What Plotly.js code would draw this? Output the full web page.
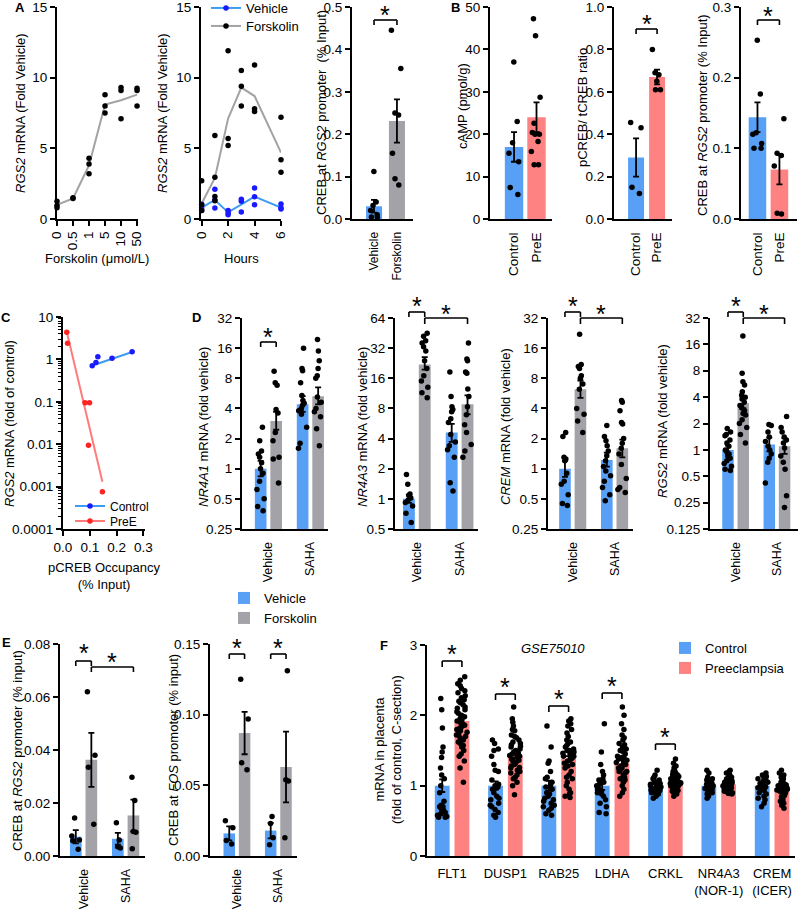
<!DOCTYPE html>
<html><head><meta charset="utf-8">
<script src="https://cdn.plot.ly/plotly-3.0.1.min.js"></script>
<style>html,body{margin:0;padding:0;background:#fff}</style>
</head><body><div id="chart" style="width:800px;height:910px"></div>
<script>
// ================= DATA =================
// A (left) RGS2 dose response
const a1Doses = ['0','0.5','1','5','10','50'];
const a1Points = [[1.25,0.95,0.8],[1.5,1.45],[4.3,3.9,3.2],[8.8,8.0,7.5],[9.3,9.1,7.1],[9.25,9.1,8.0]];
const a1Mean = [1.0,1.46,3.8,8.1,8.4,8.8];
// A (middle) time course
const a2Hours = [0,1,2,3,4,6];
const a2VehPoints = [[1.05,0.78,0.6],[2.1,1.35,0.78],[0.6,0.42,0.3],[1.4,1.25,0.5],[2.2,1.58,1.0],[1.06,0.78,0.7]];
const a2VehMean = [0.8,1.35,0.47,1.04,1.58,0.8];
const a2FskPoints = [[2.7,1.0,0.6],[5.9,2.95,1.6,1.3],[11.9,5.7,5.2],[10.5,9.4,8.0],[10.9,7.8,7.6],[7.2,4.2,3.3]];
const a2FskMean = [1.1,2.9,7.1,9.3,8.7,4.7];
// A (right) CREB at RGS2 promoter
const a3Groups = ['Vehicle','Forskolin'];
const a3Mean = [0.03,0.231];
const a3Sem = [0.015,0.051];
const a3Points = [[0.112,0.04,0.032,0.02,0.01,0.005,0.004],[0.445,0.355,0.25,0.245,0.155,0.095,0.08]];
// B
const bGroups = ['Control','PreE'];
const b1Mean = [17,24], b1Sem = [3.5,3.5];
const b1Points = [[37,23,18,15.5,13.5,7.4,5.8],[47.2,43.2,28.7,22.6,20.4,20,20,18.3,15.9,12.8,12.8]];
const b2Mean = [0.29,0.67], b2Sem = [0.09,0.035];
const b2Points = [[0.455,0.43,0.15,0.12],[0.8,0.69,0.68,0.65,0.61,0.61]];
const b3Mean = [0.144,0.07], b3Sem = [0.021,0.021];
const b3Points = [[0.253,0.177,0.122,0.12,0.107,0.1,0.1],[0.142,0.093,0.09,0.075,0.007,0.008]];
// C
const cCtrlX = [0.109,0.123,0.13,0.183,0.258];
const cCtrlY = [0.71,0.84,1.16,1.07,1.52];
const cCtrlFitX = [0.104,0.261], cCtrlFitY = [0.70,1.52];
const cPreX = [0.014,0.017,0.082,0.099,0.095,0.147];
const cPreY = [4.35,2.4,0.095,0.095,0.0095,0.00076];
const cPreFitX = [0.014,0.147], cPreFitY = [4.5,0.0013];
const cTicks = [0.0001,0.001,0.01,0.1,1,10];
const cTickText = ['0.0001','0.001','0.01','0.1','1','10'];
// D
const dGroups = ['Vehicle','SAHA'];
const d1VehMean=[1.0,4.4], d1VehUp=[1.2,5.3], d1VehLo=[0.84,3.7];
const d1FskMean=[3.0,5.3], d1FskUp=[3.7,6.5], d1FskLo=[2.45,4.4];
const d1VehPts=[[2.6,1.9,1.5,1.4,1.3,1.15,1.0,0.9,0.75,0.62,0.5,0.42,0.38],[16,10,9.5,7.2,5.4,4.8,4.5,4.3,4.0,3.8,3.5,2.6,1.8,1.6]];
const d1FskPts=[[9.4,7.2,6.8,3.9,3.6,2.3,1.9,1.3,1.25,0.72],[19.5,15,12,10,8.5,8,5.2,4.6,4.0,3.7,3.3,2.5,1.7]];
const d2VehMean=[1.0,4.6], d2VehUp=[1.1,5.6], d2VehLo=[0.91,3.7];
const d2FskMean=[22,8.8], d2FskUp=[26,10.8], d2FskLo=[19.5,7.0];
const d2VehPts=[[1.75,1.4,1.12,1.08,1.02,0.97,0.92,0.85,0.72,0.58],[18.5,10.5,8.3,7.8,7.4,6.3,5.8,4.4,3.7,3.4,3.1,2.6,1.45,1.2]];
const d2FskPts=[[45,42,38,36,33,30,24,20,17,15,13,11.5,10.2],[36,25,24,18.5,18,12.5,10.5,8.3,6.9,5.5,4.6,3.5,3.0,2.6]];
const d3VehMean=[1.0,1.22], d3VehUp=[1.2,1.45], d3VehLo=[0.83,1.05];
const d3FskMean=[6.2,1.6], d3FskUp=[7.6,1.95], d3FskLo=[5.1,1.3];
const d3VehPts=[[2.3,2.1,1.3,1.25,1.2,0.9,0.75,0.7,0.55,0.45,0.43],[2.7,2.1,1.9,1.7,1.5,1.35,1.2,1.05,0.95,0.85,0.75,0.65,0.55,0.48]];
const d3FskPts=[[22,11,10.5,10,8.5,8,7,6.2,4.0,3.5,3.0,2.3],[4.8,4.6,3.8,2.9,2.8,2.0,1.8,1.6,1.4,1.1,0.8,0.65,0.62,0.58]];
const d4VehMean=[1.0,1.15], d4VehUp=[1.12,1.38], d4VehLo=[0.9,0.96];
const d4FskMean=[3.4,1.1], d4FskUp=[3.9,1.35], d4FskLo=[3.0,0.9];
const d4VehPts=[[1.75,1.6,1.5,1.45,1.3,1.2,1.1,1.0,0.95,0.9,0.85,0.8,0.75,0.7,0.65,0.6,0.58],[1.95,1.9,1.6,1.4,1.25,1.1,1.0,0.9,0.8,0.72,0.42]];
const d4FskPts=[[20,7.5,6.0,5.5,4.6,4.2,4.0,3.8,3.5,3.2,3.0,2.8,2.6,2.5,2.2,2.0,1.8,1.5,1.2],[2.4,1.8,1.6,1.4,1.3,1.2,1.05,0.85,0.72,0.6,0.3,0.22]];
const dTicks1 = [0.25,0.5,1,2,4,8,16,32], dTickText1 = ['0.25','0.5','1','2','4','8','16','32'];
const dTicks2 = [0.5,1,2,4,8,16,32,64], dTickText2 = ['0.5','1','2','4','8','16','32','64'];
const dTicks4 = [0.125,0.25,0.5,1,2,4,8,16,32], dTickText4 = ['0.125','0.25','0.5','1','2','4','8','16','32'];
// E
const eGroups = ['Vehicle','SAHA'];
const e1VehMean=[0.0073,0.0065], e1VehSem=[0.0025,0.0022];
const e1FskMean=[0.0363,0.0153], e1FskSem=[0.0102,0.006];
const e1VehPts=[[0.0143,0.0075,0.006,0.0058,0.0025],[0.0125,0.006,0.0035,0.003]];
const e1FskPts=[[0.062,0.038,0.0335,0.012],[0.0297,0.0209,0.0092,0.009,0.0027]];
const e2VehMean=[0.016,0.018], e2VehSem=[0.005,0.0055];
const e2FskMean=[0.087,0.063], e2FskSem=[0.015,0.025];
const e2VehPts=[[0.025,0.02,0.011,0.0085],[0.028,0.023,0.013,0.008]];
const e2FskPts=[[0.125,0.097,0.066,0.061],[0.131,0.054,0.053,0.013]];
// F
const fGenes = ['FLT1','DUSP1','RAB25','LDHA','CRKL','NR4A3<br>(NOR-1)','CREM<br>(ICER)'];
const fCtrlMean = [1,1,1,1,1,1,1];
const fCtrlSem = [0.09,0.06,0.07,0.06,0.02,0.02,0.03];
const fPreMean = [1.92,1.43,1.38,1.32,1.05,1.02,0.96];
const fPreSem = [0.05,0.04,0.04,0.04,0.015,0.01,0.015];
const fCtrlPts = [
 [2.24,2.08,1.82,1.55,1.48,1.4,1.25,1.15,1.1,1.0,0.9,0.78,0.72,0.7,0.68,0.64,0.6,0.58,0.56,0.55,0.55,0.62,0.65,0.7],
 [1.65,1.6,1.52,1.5,1.42,1.3,1.22,1.2,1.08,1.02,1.0,0.98,0.95,0.9,0.85,0.82,0.8,0.75,0.7,0.66,0.62,0.58,0.55,0.72],
 [1.85,1.55,1.35,1.32,1.2,1.1,1.05,1.0,0.98,0.95,0.88,0.85,0.82,0.8,0.78,0.75,0.72,0.7,0.68,0.65,0.6,0.58,0.9,1.12],
 [1.88,1.48,1.3,1.2,1.1,1.05,1.02,1.0,0.98,0.95,0.92,0.9,0.88,0.85,0.8,0.75,0.7,0.62,0.6,1.08,0.95,1.15],
 [1.22,1.15,1.1,1.08,1.05,1.03,1.02,1.0,1.0,0.98,0.97,0.95,0.93,0.92,0.9,0.88,0.85,0.82,1.06,0.96,1.12,0.94],
 [1.22,1.18,1.12,1.1,1.08,1.06,1.05,1.03,1.02,1.0,0.99,0.98,0.97,0.95,0.94,0.93,0.92,0.9,0.88,0.85,0.82,1.0,0.96],
 [1.18,1.15,1.12,1.1,1.08,1.05,1.03,1.0,0.98,0.95,0.93,0.9,0.88,0.85,0.82,0.8,0.75,0.7,1.13,1.06,0.97,1.02]
];
const fPrePts = [
 [2.55,2.5,2.45,2.42,2.38,2.35,2.32,2.28,2.25,2.22,2.2,2.18,2.15,2.12,2.1,2.08,2.05,2.03,2.0,1.98,1.96,1.94,1.92,1.9,1.88,1.86,1.84,1.82,1.8,1.78,1.76,1.74,1.72,1.7,1.68,1.65,1.62,1.6,1.57,1.55,1.5,1.45,1.42,1.35,1.25,1.05],
 [2.12,1.95,1.9,1.85,1.8,1.78,1.72,1.7,1.68,1.65,1.62,1.6,1.58,1.56,1.55,1.52,1.5,1.48,1.46,1.45,1.43,1.42,1.4,1.38,1.36,1.35,1.33,1.3,1.28,1.26,1.25,1.22,1.2,1.18,1.15,1.12,1.1,1.05,1.0,0.87],
 [1.95,1.92,1.88,1.85,1.8,1.75,1.7,1.65,1.62,1.6,1.57,1.55,1.52,1.5,1.48,1.46,1.45,1.42,1.4,1.38,1.35,1.32,1.3,1.28,1.25,1.2,1.15,1.12,1.1,1.05,1.0,0.95,0.9,0.88,0.85,0.83,1.42,1.5],
 [2.12,2.0,1.88,1.8,1.72,1.68,1.65,1.6,1.58,1.55,1.52,1.5,1.48,1.45,1.42,1.4,1.38,1.36,1.35,1.33,1.3,1.28,1.25,1.22,1.2,1.18,1.15,1.12,1.1,1.08,1.05,1.0,0.95,0.9,0.85,1.3,1.25,1.4,1.5,1.2],
 [1.38,1.32,1.28,1.25,1.22,1.2,1.18,1.16,1.15,1.14,1.13,1.12,1.11,1.1,1.09,1.08,1.07,1.06,1.05,1.05,1.04,1.03,1.02,1.02,1.01,1.0,1.0,0.99,0.98,0.97,0.96,0.95,0.94,0.93,0.92,0.9,0.88,0.85,1.1,1.08,1.06,1.04,1.03,1.0],
 [1.22,1.2,1.18,1.15,1.13,1.12,1.1,1.09,1.08,1.07,1.06,1.05,1.04,1.03,1.02,1.02,1.01,1.0,1.0,0.99,0.98,0.97,0.96,0.95,0.94,0.93,0.92,0.91,0.9,0.89,0.88,1.05,1.0,0.97,1.01,0.98,0.95,1.03],
 [1.22,1.18,1.15,1.12,1.1,1.08,1.06,1.05,1.04,1.02,1.01,1.0,0.99,0.98,0.97,0.96,0.95,0.94,0.93,0.92,0.91,0.9,0.89,0.88,0.86,0.84,0.82,0.8,0.78,0.75,0.72,0.68,0.96,0.94,1.0,0.92,0.98]
];

// ================= STYLE / LAYOUT =================
const FONT = '"Liberation Sans", Arial, sans-serif';
const BLUE = '#57a0f6', GREY = '#a2a2a8', PINK = '#ff8282';
const LGREY = '#a3a3a3', LBLUE = '#3d9cf2', DBLUE = '#1a1aff', RED = '#ff2424', LRED = '#ff7b7b';
const W = 800, H = 910;
const px = v => v / W, py = v => 1 - v / H;
const GF = 0.74; // 1 - bargap
const OFF = GF / 4; // bar center offset within group

const traces = [], shapes = [], ann = [];
const layout = {
  width: W, height: H, margin: {l:0, r:0, t:0, b:0, autoexpand:false},
  paper_bgcolor: '#fff', plot_bgcolor: '#fff',
  font: {family: FONT, color: '#000', size: 12.5},
  barmode: 'group', bargap: 1 - GF, bargroupgap: 0.25,
  boxmode: 'group', boxgap: 1 - GF, boxgroupgap: 0.25,
  showlegend: true
};
const axBase = {showline:true, linecolor:'#000', linewidth:2, ticks:'outside', ticklen:5, tickwidth:2,
  tickcolor:'#000', showgrid:false, zeroline:false, fixedrange:true, ticklabeloverflow:'allow',
  tickfont:{family:FONT, size:13.5, color:'#000'}};
function ids(n){ return n === 1 ? ['x','y'] : ['x'+n,'y'+n]; }
function setAxes(n, x0, x1, yTop, yBot, xo, yo){
  const [xa, ya] = ids(n);
  const xn = n === 1 ? 'xaxis' : 'xaxis'+n, yn = n === 1 ? 'yaxis' : 'yaxis'+n;
  layout[xn] = Object.assign({}, axBase, {domain:[px(x0), px(x1)], anchor:ya}, xo);
  layout[yn] = Object.assign({}, axBase, {domain:[py(yBot), py(yTop)], anchor:xa}, yo);
}
const catX = (range, fs) => ({type:'category', range, ticks:'', tickangle:-90, ticklabelstandoff:6,
  tickfont:{family:FONT, size:fs, color:'#000'}});
const logY = (lo, hi, tv, tt) => ({type:'log', range:[Math.log10(lo), Math.log10(hi)], tickmode:'array', tickvals:tv, ticktext:tt});

setAxes(1, 57, 138, 7, 219, {type:'category', range:[0,5.06], tickangle:-90}, {range:[0,15], tickvals:[0,5,10,15]});
setAxes(2, 201, 281, 7, 219, {range:[-0.05,6], tickvals:[0,2,4,6], tickangle:-90}, {range:[0,15], tickvals:[0,5,10,15]});
setAxes(3, 352, 413, 7, 219, catX([-0.96,1.7], 12), {range:[0,0.5], dtick:0.1, tickformat:'.1f'});
setAxes(4, 490, 552, 7, 219, catX([-1.07,1.69], 13.5), {range:[0,50], dtick:10});
setAxes(5, 614, 672, 7, 219, catX([-1.05,1.71], 13.5), {range:[0,1], dtick:0.2, tickformat:'.1f'});
setAxes(6, 741, 797, 7, 219, catX([-0.75,1.8], 13.5), {range:[0,0.3], dtick:0.1, tickformat:'.1f'});
setAxes(7, 63, 145, 317, 529, {range:[0,0.306], tickvals:[0,0.1,0.2,0.3], tickformat:'.1f'},
  Object.assign(logY(0.0001, 10, cTicks, cTickText), {minor:{ticks:'outside', ticklen:3, tickwidth:1, tickcolor:'#000', dtick:'D1'}}));
setAxes(8, 242, 328, 318, 529, catX([-0.63,1.42], 12.5), logY(0.25, 32, dTicks1, dTickText1));
setAxes(9, 395, 478, 318, 529, catX([-0.51,1.43], 12.5), logY(0.5, 64, dTicks2, dTickText2));
setAxes(10, 548, 633, 318, 529, catX([-0.59,1.44], 12.5), logY(0.25, 32, dTicks1, dTickText1));
setAxes(11, 710, 798, 318, 529, catX([-0.62,1.51], 12.5), logY(0.125, 32, dTicks4, dTickText4));
setAxes(12, 60, 145, 644, 856, catX([-0.56,1.46], 12.5), {range:[0,0.08], dtick:0.02, tickformat:'.2f'});
setAxes(13, 210, 297, 644, 856, catX([-0.65,1.45], 12.5), {range:[0,0.15], dtick:0.05, tickformat:'.2f'});
setAxes(14, 427, 795, 645, 856, {type:'category', range:[-0.47,6.43], ticks:'', tickangle:0, ticklabelstandoff:4,
  tickfont:{family:FONT, size:13, color:'#000'}}, {range:[0,3], dtick:1});

// legends (one item each for exact placement)
function leg(xp, yp, fs){ return {x:px(xp), y:py(yp), xanchor:'left', yanchor:'middle', bgcolor:'rgba(0,0,0,0)',
  borderwidth:0, font:{family:FONT, size:fs || 13, color:'#000'}, itemsizing:'trace'}; }
layout.legend = leg(206, 8); layout.legend2 = leg(206, 26);
layout.legend3 = leg(70, 506, 12); layout.legend4 = leg(70, 521, 12);
layout.legend5 = leg(224, 598); layout.legend6 = leg(224, 618);
layout.legend7 = leg(665, 648); layout.legend8 = leg(665, 668);

const ERR = (arr, minus) => minus ? {type:'data', symmetric:false, array:arr, arrayminus:minus, color:'#000', thickness:1.8, width:3}
                                  : {type:'data', array:arr, color:'#000', thickness:1.8, width:3};
function pointsBox(xa, ya, cats, pts, extra){
  const x = [], y = [];
  cats.forEach((c, i) => pts[i].forEach(v => { x.push(c); y.push(v); }));
  return Object.assign({type:'box', x, y, xaxis:xa, yaxis:ya, boxpoints:'all', jitter:0.8, pointpos:0,
    fillcolor:'rgba(0,0,0,0)', line:{width:0, color:'rgba(0,0,0,0)'}, marker:{color:'#000', size:5.5},
    showlegend:false, hoverinfo:'skip'}, extra);
}
function simplePanel(n, cats, mean, sem, pts, colors, width){
  const [xa, ya] = ids(n);
  traces.push({type:'bar', x:cats, y:mean, xaxis:xa, yaxis:ya, width, marker:{color:colors, line:{width:0}},
    error_y:ERR(sem), showlegend:false, hoverinfo:'skip'});
  traces.push(pointsBox(xa, ya, cats, pts, {width}));
}
function groupPanel(n, cats, series){
  const [xa, ya] = ids(n);
  series.forEach((s, k) => {
    const err = s.sem ? ERR(s.sem) : ERR(s.up.map((u,i)=>u-s.mean[i]), s.mean.map((m,i)=>m-s.lo[i]));
    const bar = {type:'bar', x:cats, y:s.mean, xaxis:xa, yaxis:ya, name:s.name, marker:{color:s.color, line:{width:0}},
      offsetgroup:'g'+k, alignmentgroup:'a'+n, error_y:err, hoverinfo:'skip', showlegend:!!s.legend};
    if (s.legend) bar.legend = s.legend;
    traces.push(bar);
    traces.push(pointsBox(xa, ya, cats, s.pts, {offsetgroup:'g'+k, alignmentgroup:'a'+n}));
  });
}
// separate each point with a gap so the trace's line style only shows in its legend key
function flatGapped(xs, ys){ const x=[], y=[]; xs.forEach((c,i)=>{ x.push(c, null); y.push(ys[i], null); }); return {x, y}; }
function flat(cats, pts){ const x=[], y=[]; cats.forEach((c,i)=>pts[i].forEach(v=>{x.push(c); y.push(v);})); return {x, y}; }
function dotsWithKey(xs, ys, xa, ya, dotColor, lineColor, name, legend){
  const g = flatGapped(xs, ys);
  return {type:'scatter', mode:'lines+markers', x:g.x, y:g.y, xaxis:xa, yaxis:ya, connectgaps:false,
    line:{color:lineColor, width:2}, marker:{color:dotColor, size:5.5}, name, legend, showlegend:true,
    hoverinfo:'skip', cliponaxis:false};
}

// ---- A1 ----
{
  const p = flat(a1Doses, a1Points);
  traces.push({type:'scatter', mode:'lines', x:a1Doses, y:a1Mean, xaxis:'x', yaxis:'y', line:{color:LGREY, width:2}, showlegend:false, hoverinfo:'skip', cliponaxis:false});
  traces.push({type:'scatter', mode:'markers', x:p.x, y:p.y, xaxis:'x', yaxis:'y', marker:{color:'#000', size:5.5}, showlegend:false, hoverinfo:'skip', cliponaxis:false});
}
// ---- A2 ----
{
  const pv = flat(a2Hours, a2VehPoints), pf = flat(a2Hours, a2FskPoints);
  traces.push({type:'scatter', mode:'lines', x:a2Hours, y:a2FskMean, xaxis:'x2', yaxis:'y2', line:{color:LGREY, width:2}, showlegend:false, hoverinfo:'skip', cliponaxis:false});
  traces.push({type:'scatter', mode:'lines', x:a2Hours, y:a2VehMean, xaxis:'x2', yaxis:'y2', line:{color:LBLUE, width:2}, showlegend:false, hoverinfo:'skip', cliponaxis:false});
  traces.push(dotsWithKey(pv.x, pv.y, 'x2', 'y2', DBLUE, LBLUE, 'Vehicle', 'legend'));
  traces.push(dotsWithKey(pf.x, pf.y, 'x2', 'y2', '#000', LGREY, 'Forskolin', 'legend2'));
}
// ---- A3, B ----
simplePanel(3, a3Groups, a3Mean, a3Sem, a3Points, [BLUE, GREY], 0.7);
simplePanel(4, bGroups, b1Mean, b1Sem, b1Points, [BLUE, PINK], 0.82);
simplePanel(5, bGroups, b2Mean, b2Sem, b2Points, [BLUE, PINK], 0.76);
simplePanel(6, bGroups, b3Mean, b3Sem, b3Points, [BLUE, PINK], 0.8);
// ---- C ----
traces.push({type:'scatter', mode:'lines', x:cCtrlFitX, y:cCtrlFitY, xaxis:'x7', yaxis:'y7', line:{color:LBLUE, width:2}, showlegend:false, hoverinfo:'skip'});
traces.push({type:'scatter', mode:'lines', x:cPreFitX, y:cPreFitY, xaxis:'x7', yaxis:'y7', line:{color:LRED, width:2}, showlegend:false, hoverinfo:'skip'});
traces.push(dotsWithKey(cCtrlX, cCtrlY, 'x7', 'y7', DBLUE, LBLUE, 'Control', 'legend3'));
traces.push(dotsWithKey(cPreX, cPreY, 'x7', 'y7', RED, LRED, 'PreE', 'legend4'));
// ---- D ----
groupPanel(8, dGroups, [
  {name:'Vehicle', color:BLUE, mean:d1VehMean, up:d1VehUp, lo:d1VehLo, pts:d1VehPts, legend:'legend5'},
  {name:'Forskolin', color:GREY, mean:d1FskMean, up:d1FskUp, lo:d1FskLo, pts:d1FskPts, legend:'legend6'}]);
groupPanel(9, dGroups, [
  {name:'Vehicle', color:BLUE, mean:d2VehMean, up:d2VehUp, lo:d2VehLo, pts:d2VehPts},
  {name:'Forskolin', color:GREY, mean:d2FskMean, up:d2FskUp, lo:d2FskLo, pts:d2FskPts}]);
groupPanel(10, dGroups, [
  {name:'Vehicle', color:BLUE, mean:d3VehMean, up:d3VehUp, lo:d3VehLo, pts:d3VehPts},
  {name:'Forskolin', color:GREY, mean:d3FskMean, up:d3FskUp, lo:d3FskLo, pts:d3FskPts}]);
groupPanel(11, dGroups, [
  {name:'Vehicle', color:BLUE, mean:d4VehMean, up:d4VehUp, lo:d4VehLo, pts:d4VehPts},
  {name:'Forskolin', color:GREY, mean:d4FskMean, up:d4FskUp, lo:d4FskLo, pts:d4FskPts}]);
// ---- E ----
groupPanel(12, eGroups, [
  {name:'Vehicle', color:BLUE, mean:e1VehMean, sem:e1VehSem, pts:e1VehPts},
  {name:'Forskolin', color:GREY, mean:e1FskMean, sem:e1FskSem, pts:e1FskPts}]);
groupPanel(13, eGroups, [
  {name:'Vehicle', color:BLUE, mean:e2VehMean, sem:e2VehSem, pts:e2VehPts},
  {name:'Forskolin', color:GREY, mean:e2FskMean, sem:e2FskSem, pts:e2FskPts}]);
// ---- F ----
groupPanel(14, fGenes, [
  {name:'Control', color:BLUE, mean:fCtrlMean, sem:fCtrlSem, pts:fCtrlPts, legend:'legend7'},
  {name:'Preeclampsia', color:PINK, mean:fPreMean, sem:fPreSem, pts:fPrePts, legend:'legend8'}]);

// ================= DECORATIONS =================
function bracket(n, xl, xr, top, legBot, star){
  const [xa] = ids(n);
  const L = {color:'#000', width:1.6};
  shapes.push({type:'line', xref:xa, yref:'paper', x0:xl, x1:xr, y0:py(top), y1:py(top), line:L});
  shapes.push({type:'line', xref:xa, yref:'paper', x0:xl, x1:xl, y0:py(top), y1:py(legBot), line:L});
  shapes.push({type:'line', xref:xa, yref:'paper', x0:xr, x1:xr, y0:py(top), y1:py(legBot), line:L});
  ann.push({xref:xa, yref:'paper', x:(xl+xr)/2, y:py(star+5), text:'*', showarrow:false, xanchor:'center', yanchor:'middle', font:{size:25, family:FONT, color:'#000'}});
}
bracket(3, 0, 1, 20, 25, 10);
bracket(5, 0, 1, 29, 34, 19);
bracket(6, 0, 1, 20, 25, 11);
bracket(8, -OFF, OFF, 342, 347, 332);
[9,10,11].forEach(n => { bracket(n, -OFF, OFF, 312, 317, 301); bracket(n, OFF, 1+OFF, 318, 324, 309); });
bracket(12, -OFF, OFF, 661, 666, 648);
bracket(12, OFF, 1+OFF, 667, 672, 657);
bracket(13, -OFF, OFF, 654, 659, 643);
bracket(13, 1-OFF, 1+OFF, 654, 659, 643);
[[0,661],[1,694],[2,706],[3,693],[4,744]].forEach(([g,t]) => bracket(14, g-OFF, g+OFF, t, t+6, t-12));

function ytitle(xc, yc, text){ ann.push({xref:'paper', yref:'paper', x:px(xc), y:py(yc), text, textangle:-90, showarrow:false, xanchor:'center', yanchor:'middle', font:{size:13, family:FONT, color:'#000'}}); }
function xtitle(xc, yc, text, extra){ ann.push(Object.assign({xref:'paper', yref:'paper', x:px(xc), y:py(yc), text, showarrow:false, xanchor:'center', yanchor:'middle', font:{size:13, family:FONT, color:'#000'}}, extra)); }
function letter(xc, yc, t){ ann.push({xref:'paper', yref:'paper', x:px(xc), y:py(yc), text:'<b>'+t+'</b>', showarrow:false, xanchor:'center', yanchor:'middle', font:{size:13, family:FONT, color:'#000'}}); }
ytitle(20, 113, '<i>RGS2</i> mRNA (Fold Vehicle)');
xtitle(97, 258, 'Forskolin (μmol/L)');
ytitle(162, 113, '<i>RGS2</i> mRNA (Fold Vehicle)');
xtitle(241, 258, 'Hours');
ytitle(321, 113, 'CREB at <i>RGS2</i> promoter  (% Input)');
ytitle(462, 106, 'cAMP (pmol/g)');
ytitle(582, 108, 'pCREB/ tCREB ratio');
ytitle(702, 115, 'CREB at <i>RGS2</i> promoter (% Input)');
ytitle(9, 424, '<i>RGS2</i> mRNA (fold of control)');
xtitle(104, 576, 'pCREB Occupancy<br>(% Input)');
ytitle(203, 427, '<i>NR4A1</i> mRNA (fold vehicle)');
ytitle(362, 427, '<i>NR4A3</i> mRNA (fold vehicle)');
ytitle(505, 427, '<i>CREM</i> mRNA (fold vehicle)');
ytitle(662, 421, '<i>RGS2</i> mRNA (fold vehicle)');
ytitle(17, 751, 'CREB at <i>RGS2</i> promoter (% input)');
ytitle(173, 750, 'CREB at <i>FOS</i> promoter (% input)');
ytitle(388, 750, 'mRNA in placenta<br>(fold of control, C-section)');
xtitle(553, 648, '<i>GSE75010</i>');
letter(20, 8, 'A'); letter(455, 8, 'B'); letter(6, 317, 'C'); letter(196, 317, 'D'); letter(6, 642, 'E'); letter(384, 645, 'F');

layout.shapes = shapes;
layout.annotations = ann;
Plotly.newPlot('chart', traces, layout, {displayModeBar:false, staticPlot:true});
</script>
</body></html>
